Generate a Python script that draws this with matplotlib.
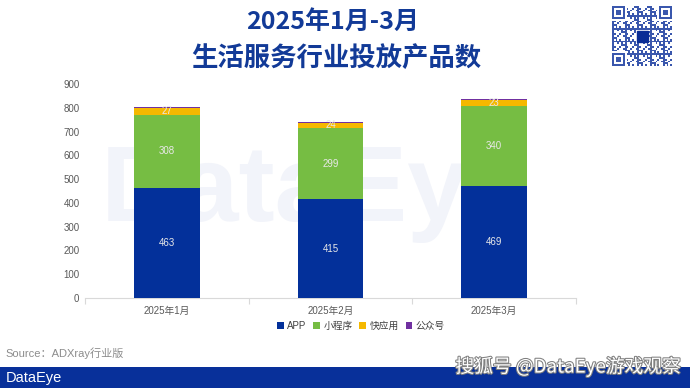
import matplotlib
matplotlib.use("Agg")
import matplotlib.pyplot as plt
import matplotlib.patheffects as pe
import numpy as np

plt.rcParams['font.family'] = ['Liberation Sans', 'Noto Sans CJK SC', 'DejaVu Sans']

categories = ['2025年1月', '2025年2月', '2025年3月']
series_names = ['APP', '小程序', '快应用', '公众号']
app = [463, 415, 469]
mini = [308, 299, 340]
quick = [27, 24, 23]
gzh = [6, 3, 6]
yticks = [0, 100, 200, 300, 400, 500, 600, 700, 800, 900]

colors = ['#03309A', '#76BD43', '#F5B800', '#7030A0']

fig = plt.figure(figsize=(6.9, 3.88), dpi=100)
ax = fig.add_axes([85/690, 1-298/388, (576-85)/690, (298-84)/388])

x = np.arange(len(categories))
w = 0.40
bottom = np.zeros(3)
series = [app, mini, quick, gzh]
for i, (vals, c, name) in enumerate(zip(series, colors, series_names)):
    vals = np.array(vals, dtype=float)
    ax.bar(x, vals, w, bottom=bottom, color=c, label=name, zorder=3, linewidth=0)
    if i < 3:
        for xi, b, v in zip(x, bottom, vals):
            ax.text(xi, b + v/2, f'{int(v)}', ha='center', va='center',
                    fontsize=7, color='#E8E8E8', zorder=4)
    bottom += vals

ax.set_xlim(-0.5, 2.5)
ax.set_ylim(0, 900)
ax.set_yticks(yticks)
ax.set_yticklabels([str(t) for t in yticks], fontsize=7, color='#595959')
ax.set_xticks(x)
ax.set_xticklabels(categories, fontsize=7, color='#595959')
ax.set_xticks([-0.5, 0.5, 1.5, 2.5], minor=True)
ax.tick_params(axis='x', which='major', length=0, pad=6)
ax.tick_params(axis='x', which='minor', length=4, color='#D9D9D9', width=0.8)
ax.tick_params(axis='y', length=0, pad=4)
for s in ['top', 'right', 'left']:
    ax.spines[s].set_visible(False)
ax.spines['bottom'].set_color('#D9D9D9')
ax.spines['bottom'].set_linewidth(0.8)

# faint watermark
ax.text(0.9, 440, 'DataEye', ha='center', va='center', fontsize=78,
        color='#F2F4FA', fontweight='bold', zorder=1, family='Liberation Sans')

leg = fig.legend(loc='center', bbox_to_anchor=(361/690, 1-326/388), ncol=4,
                 frameon=False, fontsize=7, handlelength=0.7, handleheight=0.7,
                 handletextpad=0.35, columnspacing=0.7)
for t in leg.get_texts():
    t.set_color('#404040')

# title
fig.text(333/690, 1-22/388, '2025年1月-3月', ha='center', va='center', fontsize=18,
         fontweight='bold', color='#123A97', family=['Noto Sans CJK SC', 'DejaVu Sans'])
fig.text(336/690, 1-58/388, '生活服务行业投放产品数', ha='center', va='center', fontsize=19,
         fontweight='bold', color='#123A97', family=['Noto Sans CJK SC', 'DejaVu Sans'])

# footer
fig.text(5/690, 1-353/388, 'Source：ADXray行业版', ha='left', va='center', fontsize=8,
         color='#8C8C8C')
band = fig.add_axes([0, 0, 1, 21/388])
band.set_facecolor('#08309A')
band.set_xticks([]); band.set_yticks([])
for s in band.spines.values():
    s.set_visible(False)
fig.text(6/690, 1-378/388, 'DataEye', ha='left', va='center', fontsize=10.5,
         color='white', family='Liberation Sans')
fig.text(681/690, 1-367/388, '搜狐号 @DataEye游戏观察', ha='right', va='center', fontsize=13.5,
         color='white', family=['Noto Sans CJK SC', 'DejaVu Sans'],
         path_effects=[pe.withStroke(linewidth=1.5, foreground='#808080')])

# QR-like decoration
qr = fig.add_axes([612/690, 1-66/388, 60/690, 60/388])
n = 33
grid = np.zeros((n, n))
for i in range(n):
    for j in range(n):
        grid[i, j] = 1 if ((i*7 + j*13 + i*j*3) % 7) < 3 else 0
def finder(r, c):
    grid[max(r-1, 0):min(r+8, n), max(c-1, 0):min(c+8, n)] = 0
    grid[r:r+7, c:c+7] = 1
    grid[r+1:r+6, c+1:c+6] = 0
    grid[r+2:r+5, c+2:c+5] = 1
for (r, c) in [(0, 0), (0, n-7), (n-7, 0)]:
    finder(r, c)
grid[13:20, 13:20] = 0
qr.imshow(grid, cmap=matplotlib.colors.ListedColormap(['white', '#3A57AD']),
          interpolation='nearest')
qr.add_patch(plt.Rectangle((13.5, 13.5), 6, 6, color='#0A2D96'))
qr.set_xticks([]); qr.set_yticks([])
for s in qr.spines.values():
    s.set_visible(False)

fig.savefig('out.png', dpi=100)
